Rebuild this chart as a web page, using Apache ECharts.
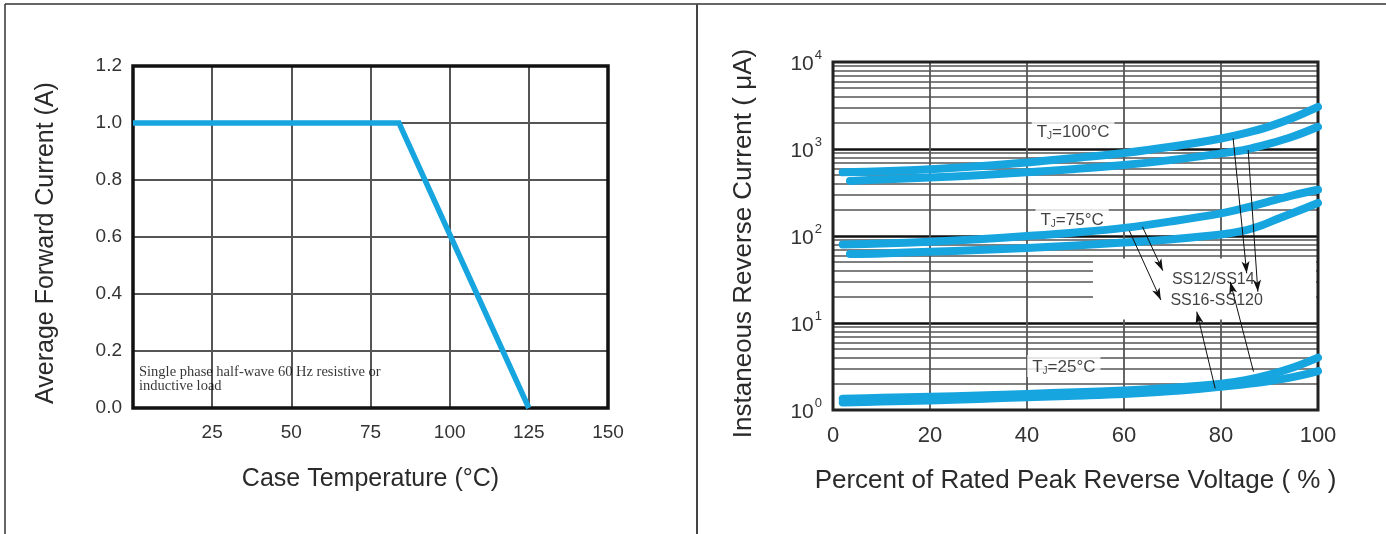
<!DOCTYPE html>
<html><head><meta charset="utf-8">
<script src="https://cdn.jsdelivr.net/npm/echarts@6/dist/echarts.min.js"></script>
<style>html,body{margin:0;padding:0;background:#fff}#c{width:1386px;height:534px}</style>
</head><body><div id="c"></div>
<script>
// ---------- Left chart: derating curve ----------
const caseTemp = [0, 84, 125];
const avgCurrent = [1.0, 1.0, 0.0];
const noteText = 'Single phase half-wave 60 Hz resistive or\ninductive load';
const notePos = [1.9, 0.10];

// ---------- Right chart: reverse current ----------
const pct100a = [2, 10, 20, 30, 40, 50, 60, 70, 80, 85, 90, 95, 100];
const cur100a = [540, 555, 585, 635, 700, 790, 900, 1070, 1320, 1520, 1820, 2300, 3050];
const pct100b = [3.5, 10, 20, 30, 40, 50, 60, 70, 80, 85, 90, 95, 100];
const cur100b = [430, 445, 470, 500, 540, 590, 655, 750, 890, 980, 1150, 1400, 1800];
const pct75a = [2, 10, 20, 30, 40, 50, 60, 70, 80, 85, 90, 95, 100];
const cur75a = [80, 82, 86, 92, 100, 110, 124, 148, 182, 210, 250, 295, 340];
const pct75b = [3.5, 10, 20, 30, 40, 50, 60, 70, 80, 85, 88, 92, 96, 100];
const cur75b = [62, 63, 66, 69, 73, 78, 84, 92, 104, 116, 130, 160, 195, 240];
const pct25a = [2, 10, 20, 30, 40, 50, 60, 70, 80, 85, 90, 95, 100];
const cur25a = [1.35, 1.38, 1.42, 1.47, 1.53, 1.6, 1.68, 1.8, 2.0, 2.2, 2.55, 3.1, 4.0];
const pct25b = [2, 10, 20, 30, 40, 50, 60, 70, 80, 85, 90, 95, 100];
const cur25b = [1.22, 1.25, 1.29, 1.34, 1.4, 1.46, 1.53, 1.65, 1.85, 1.98, 2.15, 2.4, 2.8];

const minorGrid = [2,3,4,5,6,7,8,9, 20,30,40,50,60,70,80,90, 200,300,400,500,600,700,800,900, 2000,3000,4000,5000,6000,7000,8000,9000];

const tjLabels = ['T{s|J}=100°C', 'T{s|J}=75°C', 'T{s|J}=25°C'];
const tjPos = [[49.5, 1610], [49.3, 157], [47.6, 3.2]];
const partLabels = ['SS12/SS14', 'SS16-SS120'];
const partPos = [[78.4, 31.2], [79.1, 18.1]];
const arrowFrom = [[61.1, 115], [63.8, 128], [82.5, 1327], [85.6, 974], [78.8, 1.77], [86.7, 2.76]];
const arrowTo   = [[67.6, 18.4], [68.0, 39.9], [85.3, 37.3], [87.6, 22.9], [75.0, 13.5], [81.9, 29.8]];
const blankBox = [[53.6, 55], [99.6, 11]];

const BLUE = '#17a5df';
const FONT = 'Liberation Sans, Arial, sans-serif';
const zip = (a, b) => a.map((v, i) => [v, b[i]]);

const curve = (name, xs, ys) => ({
  name, type: 'line', xAxisIndex: 1, yAxisIndex: 1, data: zip(xs, ys),
  smooth: 0.35, symbol: 'none', z: 5, silent: true,
  lineStyle: { color: BLUE, width: 8, cap: 'round', join: 'round' }
});

const frame = [
  { type: 'line', shape: { x1: 5, y1: 4, x2: 1386, y2: 4 }, style: { stroke: '#333', lineWidth: 1.5 } },
  { type: 'line', shape: { x1: 5, y1: 4, x2: 5, y2: 534 }, style: { stroke: '#333', lineWidth: 1.5 } },
  { type: 'line', shape: { x1: 697, y1: 4, x2: 697, y2: 534 }, style: { stroke: '#444', lineWidth: 2 } }
];

const chart = echarts.init(document.getElementById('c'), null, { renderer: 'canvas' });
chart.setOption({
  animation: false,
  backgroundColor: '#fff',
  textStyle: { fontFamily: FONT },
  graphic: frame,
  grid: [
    { left: 133, top: 66, width: 475, height: 342, show: true, borderColor: '#111', borderWidth: 3.5, backgroundColor: 'transparent', containLabel: false, outerBoundsMode: 'none', z: 3 },
    { left: 833, top: 62, width: 485, height: 348, show: true, borderColor: '#222', borderWidth: 3, backgroundColor: 'transparent', containLabel: false, outerBoundsMode: 'none', z: 3 }
  ],
  xAxis: [
    { gridIndex: 0, type: 'value', min: 0, max: 150, interval: 25,
      axisLine: { show: false }, axisTick: { show: false },
      axisLabel: { color: '#333', fontSize: 19, margin: 15, fontFamily: FONT, formatter: v => v === 0 ? '' : String(v) },
      splitLine: { show: true, showMinLine: false, showMaxLine: false, lineStyle: { color: '#555', width: 2 } },
      name: 'Case Temperature (°C)', nameLocation: 'middle', nameGap: 59,
      nameTextStyle: { color: '#2a2a2a', fontSize: 25, fontFamily: FONT } },
    { gridIndex: 1, type: 'value', min: 0, max: 100, interval: 20,
      axisLine: { show: false }, axisTick: { show: false },
      axisLabel: { color: '#333', fontSize: 22, margin: 15, fontFamily: FONT },
      splitLine: { show: true, showMinLine: false, showMaxLine: false, lineStyle: { color: '#555', width: 1.8 } },
      name: 'Percent of Rated Peak Reverse Voltage ( % )', nameLocation: 'middle', nameGap: 58,
      nameTextStyle: { color: '#2a2a2a', fontSize: 26, fontFamily: FONT } }
  ],
  yAxis: [
    { gridIndex: 0, type: 'value', min: 0, max: 1.2, interval: 0.2,
      axisLine: { show: false }, axisTick: { show: false },
      axisLabel: { color: '#333', fontSize: 19, margin: 11, fontFamily: FONT, formatter: v => v.toFixed(1) },
      splitLine: { show: true, showMinLine: false, showMaxLine: false, lineStyle: { color: '#555', width: 2 } },
      name: 'Average Forward Current (A)', nameLocation: 'middle', nameGap: 74,
      nameTextStyle: { color: '#2a2a2a', fontSize: 25, fontFamily: FONT, padding: [0, 12, 0, 0] } },
    { gridIndex: 1, type: 'log', logBase: 10, min: 1, max: 10000,
      axisLine: { show: false }, axisTick: { show: false },
      axisLabel: { color: '#333', margin: 11, fontFamily: FONT,
        formatter: v => '{b|10}{p|' + Math.round(Math.log10(v)) + '}',
        rich: { b: { fontSize: 21, color: '#333', fontFamily: FONT, padding: [5, 0, 0, 0] },
                p: { fontSize: 13, color: '#333', fontFamily: FONT, verticalAlign: 'top', padding: [0, 0, 0, 1] } } },
      splitLine: { show: true, showMinLine: false, showMaxLine: false, lineStyle: { color: '#111', width: 2.5 } },
      name: 'Instaneous Reverse Current ( μA)', nameLocation: 'middle', nameGap: 76,
      nameTextStyle: { color: '#2a2a2a', fontSize: 26, fontFamily: FONT, padding: [0, 15, 0, 0] } }
  ],
  series: [
    { name: 'derating', type: 'line', xAxisIndex: 0, yAxisIndex: 0, data: zip(caseTemp, avgCurrent),
      symbol: 'none', z: 5, silent: true,
      lineStyle: { color: BLUE, width: 5.5, join: 'miter' } },
    { name: 'note', type: 'scatter', xAxisIndex: 0, yAxisIndex: 0, data: [notePos], symbolSize: 0, silent: true, z: 6,
      label: { show: true, position: 'right', distance: 0, formatter: () => noteText,
        fontFamily: 'Liberation Serif, Times New Roman, serif', fontSize: 14.5, lineHeight: 14, color: '#000' } },

    { name: 'minor', type: 'line', xAxisIndex: 1, yAxisIndex: 1, data: [], z: 1, silent: true,
      markLine: { z: 1, silent: true, symbol: ['none', 'none'], animation: false,
        label: { show: false }, lineStyle: { color: '#555', width: 1.5, type: 'solid' },
        emphasis: { disabled: true },
        data: minorGrid.map(v => ({ yAxis: v })) } },
    { name: 'tj', type: 'scatter', xAxisIndex: 1, yAxisIndex: 1, data: tjPos, symbolSize: 0, silent: true, z: 3,
      label: { show: true, position: 'inside',
        formatter: p => tjLabels[p.dataIndex],
        backgroundColor: '#fff', padding: [3, 5, 1, 5],
        color: '#111', fontSize: 17, fontFamily: FONT,
        rich: { s: { fontSize: 10, color: '#111', fontFamily: FONT, verticalAlign: 'bottom', padding: [8, 0, 0, 0] } } } },

    curve('100C SS12/SS14', pct100a, cur100a),
    curve('100C SS16-SS120', pct100b, cur100b),
    curve('75C SS12/SS14', pct75a, cur75a),
    curve('75C SS16-SS120', pct75b, cur75b),
    curve('25C SS12/SS14', pct25a, cur25a),
    curve('25C SS16-SS120', pct25b, cur25b),

    { name: 'arrows', type: 'line', xAxisIndex: 1, yAxisIndex: 1, data: [], z: 7, silent: true,
      markLine: { z: 7, silent: true, symbol: ['none', 'arrow'], symbolSize: [6, 12], animation: false,
        label: { show: false }, emphasis: { disabled: true },
        lineStyle: { color: '#111', width: 1, type: 'solid' },
        itemStyle: { color: '#111' },
        data: arrowFrom.map((f, i) => [{ coord: f }, { coord: arrowTo[i] }]) } },
    { name: 'parts', type: 'scatter', xAxisIndex: 1, yAxisIndex: 1, data: partPos, symbolSize: 0, silent: true, z: 8,
      label: { show: true, position: 'inside', formatter: p => partLabels[p.dataIndex],
        color: '#111', fontSize: 16, fontFamily: FONT } }
  ]
});

// white blank box behind the part labels, positioned through the axes
const p0 = chart.convertToPixel({ gridIndex: 1 }, blankBox[0]);
const p1 = chart.convertToPixel({ gridIndex: 1 }, blankBox[1]);
chart.setOption({
  graphic: frame.concat([{
    type: 'rect', z: 2, silent: true,
    shape: { x: p0[0], y: p0[1], width: p1[0] - p0[0], height: p1[1] - p0[1] },
    style: { fill: '#fff' }
  }])
});
</script></body></html>
